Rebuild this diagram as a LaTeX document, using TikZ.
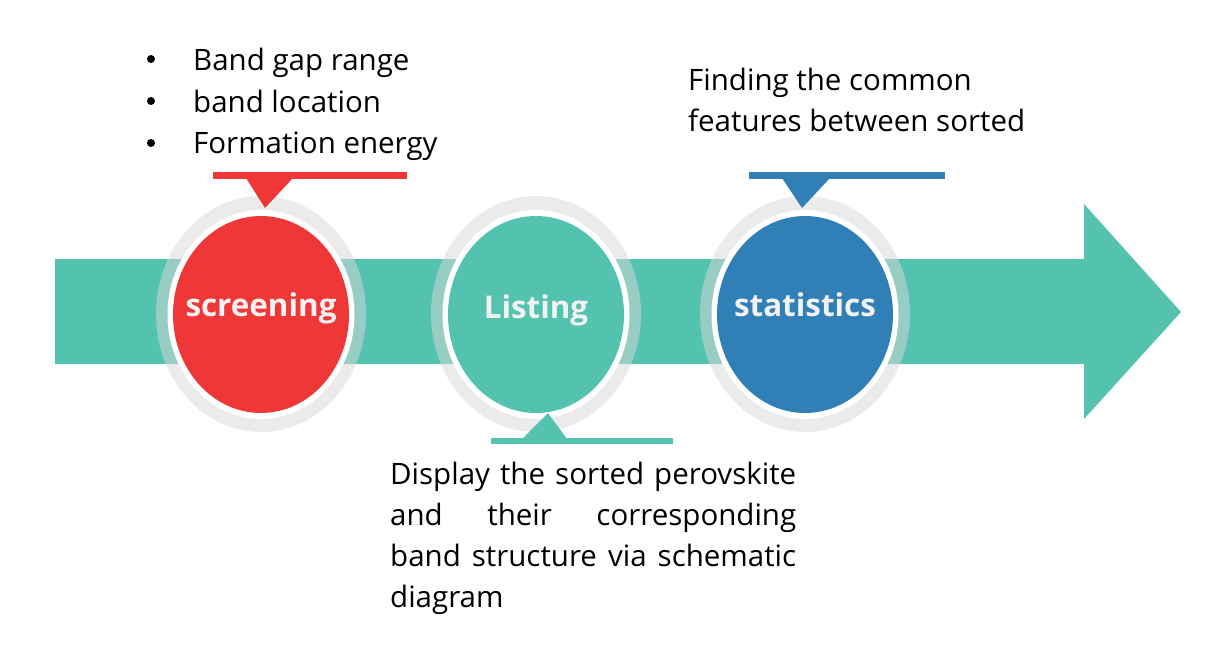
\documentclass[tikz,border=0pt]{standalone}
\usepackage{fontspec}
\setmainfont{Open Sans}
\definecolor{flowteal}{RGB}{83,194,175}
\definecolor{flowred}{RGB}{239,55,56}
\definecolor{flowblue}{RGB}{48,127,183}
\definecolor{halogrey}{RGB}{217,217,217}
\definecolor{labelwhite}{RGB}{242,242,242}
\begin{document}
\begin{tikzpicture}[x=1bp,y=-1bp,
  band/.style={fill=flowteal,draw=none},
  halo/.style={fill=halogrey,fill opacity=0.52,draw=none},
  gapring/.style={fill=white,draw=none},
  steplabel/.style={text=labelwhite,font=\fontsize{31.5}{31.5}\selectfont\bfseries,anchor=base,inner sep=0},
  note/.style={font=\fontsize{29.6}{41}\selectfont,anchor=base west,inner sep=0,text=black},
  bulletmark/.style={circle,fill=black,draw=none,minimum size=8bp,inner sep=0},
]
\useasboundingbox (0,0) rectangle (1214,650);

% main flow arrow
\fill[band] (55,259) -- (1084,259) -- (1084,204) -- (1181,312)
  -- (1084,419) -- (1084,364) -- (55,364) -- cycle;

% step discs: translucent halo, white gap, coloured disc
\foreach \cx/\col in {261/flowred,536/flowteal,805/flowblue}{
  \fill[halo] (\cx,314) ellipse [x radius=105bp,y radius=118bp];
  \fill[gapring] (\cx,314.5) ellipse [x radius=93.5bp,y radius=104.5bp];
  \fill[\col] (\cx,314.5) ellipse [x radius=88bp,y radius=98.5bp];
}

% callout bars with pointers
\fill[flowred] (213,172) rectangle (407,179);
\fill[flowred] (246,178) -- (293,178) -- (265,208) -- cycle;
\fill[flowblue] (749,172) rectangle (945,179);
\fill[flowblue] (782,178) -- (830,178) -- (802,208) -- cycle;
\fill[flowteal] (491,438) rectangle (673,444);
\fill[flowteal] (522,439) -- (567,439) -- (548,413) -- cycle;

% step labels
\node[steplabel] (screening) at (261,316) {screening};
\node[steplabel] (listing) at (536,318) {Listing};
\node[steplabel] (statistics) at (805,316) {statistics};

% screening criteria
\node[bulletmark] (b1) at (151,59) {};
\node[bulletmark] (b2) at (151,101) {};
\node[bulletmark] (b3) at (151,143) {};
\node[note] (c1) at (193,71) {Band gap range};
\node[note] (c2) at (193,113) {band location};
\node[note] (c3) at (193,154) {Formation energy};

% statistics note
\node[note] (s1) at (688,91) {Finding the common};
\node[note] (s2) at (688,132) {features between sorted};

% listing note, justified lines
\node[note] (l1) at (390,484) {\makebox[406bp][s]{Display the sorted perovskite}};
\node[note] (l2) at (390,525) {\makebox[406bp][s]{and their corresponding}};
\node[note] (l3) at (390,566) {\makebox[406bp][s]{band structure via schematic}};
\node[note] (l4) at (390,607) {diagram};
\end{tikzpicture}
\end{document}
